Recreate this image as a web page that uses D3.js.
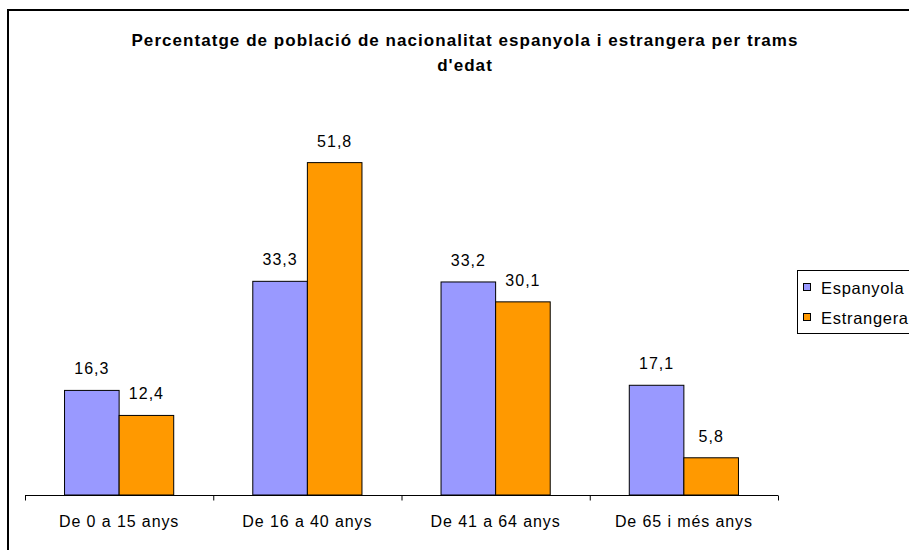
<!DOCTYPE html>
<html><head><meta charset="utf-8">
<script src="https://cdn.jsdelivr.net/npm/d3@7/dist/d3.min.js"></script>
<style>
body{margin:0;background:#fff;}
svg{display:block;font-family:"Liberation Sans",Arial,sans-serif;}
</style></head>
<body>
<svg id="chart" width="909" height="550"></svg>
<script>
const categories = ["De 0 a 15 anys","De 16 a 40 anys","De 41 a 64 anys","De 65 i més anys"];
const seriesNames = ["Espanyola","Estrangera"];
const espanyola = [16.3, 33.3, 33.2, 17.1];
const estrangera = [12.4, 51.8, 30.1, 5.8];
const titleLines = ["Percentatge de població de nacionalitat espanyola i estrangera per trams","d'edat"];
const colors = ["#9999FF","#FF9900"];

const svg = d3.select("#chart");
// outer frame
svg.append("rect").attr("x",8).attr("y",10).attr("width",910).attr("height",560)
  .attr("fill","none").attr("stroke","#000").attr("stroke-width",2);

const plotLeft=25,plotRight=778,plotBase=495,plotTop=110;
const x = d3.scaleBand().domain(categories).range([plotLeft,plotRight]).paddingInner(0.42).paddingOuter(0.21);
const xs = d3.scaleBand().domain(seriesNames).range([0,x.bandwidth()]);
const y = d3.scaleLinear().domain([0,60]).range([plotBase,plotTop]);
const fmt = v => d3.format(".1f")(v).replace(".",",");

const data = categories.map((c,i)=>({cat:c, vals:[espanyola[i],estrangera[i]]}));

const g = svg.append("g");
const groups = g.selectAll("g.grp").data(data).join("g").attr("class","grp")
  .attr("transform",d=>`translate(${x(d.cat)},0)`);
groups.selectAll("rect").data(d=>d.vals.map((v,j)=>({v,s:seriesNames[j],j})))
  .join("rect")
  .attr("x",d=>xs(d.s)).attr("width",xs.bandwidth())
  .attr("y",d=>y(d.v)).attr("height",d=>plotBase-y(d.v))
  .attr("fill",d=>colors[d.j]).attr("stroke","#000").attr("stroke-width",1);
groups.selectAll("text").data(d=>d.vals.map((v,j)=>({v,s:seriesNames[j],j})))
  .join("text")
  .attr("x",d=>xs(d.s)+xs.bandwidth()/2).attr("y",d=>y(d.v)-16)
  .attr("text-anchor","middle").attr("font-size",16).attr("letter-spacing",1)
  .attr("fill","#000").text(d=>fmt(d.v));

// axis
const xAxis = d3.axisBottom(x).tickSize(0).tickPadding(0);
const ax = svg.append("g").attr("transform",`translate(0,${plotBase})`).call(xAxis);
ax.select(".domain").remove();
ax.selectAll("text").attr("font-size",16).attr("letter-spacing",0.9)
  .attr("font-family","Liberation Sans, Arial, sans-serif").attr("fill","#000").attr("dy",null).attr("y",32);
const bnd = d3.scaleLinear().domain([0,categories.length]).range([plotLeft,plotRight]);
const tAx = d3.axisBottom(bnd).ticks(categories.length).tickSize(5).tickFormat("");
const tg = svg.append("g").attr("transform",`translate(0,${plotBase+0.5})`).call(tAx);
tg.select(".domain").attr("d",`M${plotLeft},0H${plotRight}`).attr("stroke","#000");
tg.selectAll("line").attr("stroke","#000");

// title
svg.append("g").selectAll("text").data(titleLines).join("text")
  .attr("x",465).attr("y",(d,i)=>46+i*25).attr("text-anchor","middle")
  .attr("font-weight","bold").attr("font-size",17).attr("letter-spacing",1.05)
  .attr("fill","#000").text(d=>d);

// legend
const lg = svg.append("g");
lg.append("rect").attr("x",797.5).attr("y",270.5).attr("width",130).attr("height",63)
  .attr("fill","#fff").attr("stroke","#000").attr("stroke-width",1);
const li = lg.selectAll("g.li").data(seriesNames).join("g").attr("class","li")
  .attr("transform",(d,i)=>`translate(0,${287+i*30})`);
li.append("rect").attr("x",803.5).attr("y",-3.5).attr("width",7).attr("height",7)
  .attr("fill",(d,i)=>colors[i]).attr("stroke","#000").attr("stroke-width",1);
li.append("text").attr("x",821).attr("y",7).attr("font-size",16.5).attr("letter-spacing",0.7)
  .attr("fill","#000").text(d=>d);
</script>
</body></html>
